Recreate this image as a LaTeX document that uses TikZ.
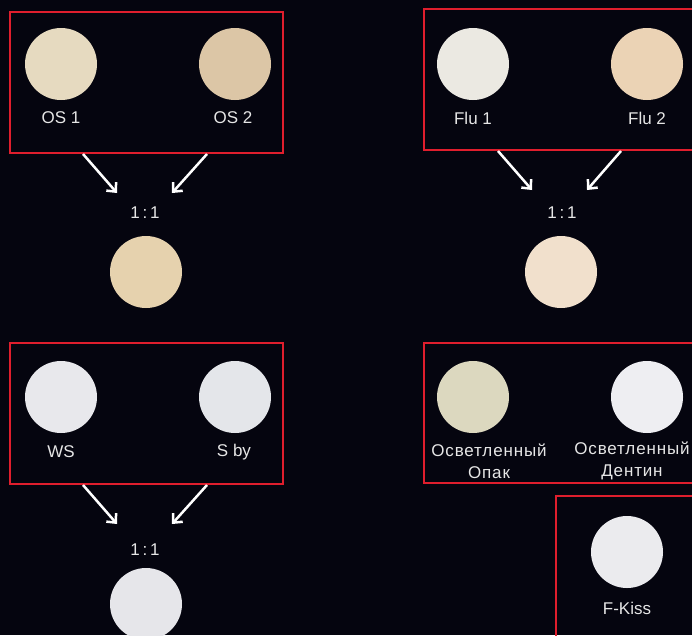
\documentclass[tikz,border=0pt]{standalone}
\usepackage{fontspec}
\setmainfont{Liberation Sans}
\newfontfamily\widesans[LetterSpace=5]{Liberation Sans}
\usetikzlibrary{arrows.meta}
\definecolor{bg}{HTML}{05050F}
\definecolor{frame}{HTML}{E01E2D}
\definecolor{txt}{HTML}{E6E6E6}
\definecolor{os1c}{HTML}{E6DAC0}
\definecolor{os2c}{HTML}{DCC6A6}
\definecolor{osmix}{HTML}{E6D2AE}
\definecolor{flu1c}{HTML}{EBE9E2}
\definecolor{flu2c}{HTML}{EBD3B5}
\definecolor{flumix}{HTML}{F1E0CC}
\definecolor{wsc}{HTML}{E8E8EC}
\definecolor{sbyc}{HTML}{E4E6EA}
\definecolor{wsmix}{HTML}{E6E6EA}
\definecolor{opakc}{HTML}{DCD8BF}
\definecolor{dentc}{HTML}{EEEEF2}
\definecolor{kissc}{HTML}{EBEBEE}
\tikzset{
  shade/.style={circle, inner sep=0pt, minimum size=72pt, fill=#1},
  caption/.style={text=txt, font=\fontsize{17}{22}\selectfont, align=center},
  frame/.style={draw=frame, line width=2.6pt},
  mixarrow/.style={draw=white, line width=2.5pt, -{Straight Barb[length=7pt,width=13pt]}}
}
\begin{document}
\begin{tikzpicture}[x=1pt, y=-1pt]
  \clip (0,0) rectangle (692,635);
  \fill[bg] (0,0) rectangle (692,635);
  % frames
  \draw[frame] (10,12) rectangle (283,153);
  \draw[frame] (424,9) rectangle (705,150);
  \draw[frame] (10,343) rectangle (283,484);
  \draw[frame] (424,343) rectangle (705,483);
  \draw[frame] (556,496) rectangle (705,650);
  % OS
  \node[shade=os1c] (os1) at (61,64) {};
  \node[shade=os2c] (os2) at (235,64) {};
  \node[caption] (os1t) at (61,118) {OS 1};
  \node[caption] (os2t) at (233,118) {OS 2};
  \node[caption] (osr) at (145,213) {1\,:\,1};
  \node[shade=osmix] (osm) at (146,272) {};
  \coordinate (osa) at (83,154);
  \coordinate (osb) at (207,154);
  \coordinate (osc) at (117,193);
  \coordinate (osd) at (172,193);
  % Flu
  \node[shade=flu1c] (flu1) at (473,64) {};
  \node[shade=flu2c] (flu2) at (647,64) {};
  \node[caption] (flu1t) at (473,118) {Flu 1};
  \node[caption] (flu2t) at (647,118) {Flu 2};
  \node[caption] (flur) at (562,213) {1\,:\,1};
  \node[shade=flumix] (flum) at (561,272) {};
  \coordinate (flua) at (498,151);
  \coordinate (flub) at (621,151);
  \coordinate (fluc) at (532,190);
  \coordinate (flud) at (587,190);
  % WS / S by
  \node[shade=wsc] (ws) at (61,397) {};
  \node[shade=sbyc] (sby) at (235,397) {};
  \node[caption] (wst) at (61,452) {WS};
  \node[caption] (sbyt) at (234,452) {S by};
  \node[caption] (wsr) at (145,550) {1\,:\,1};
  \node[shade=wsmix] (wsm) at (146,604) {};
  \coordinate (wsa) at (83,485);
  \coordinate (wsb) at (207,485);
  \coordinate (wsc) at (117,524);
  \coordinate (wsd) at (172,524);
  % light shades
  \node[shade=opakc] (opak) at (473,397) {};
  \node[shade=dentc] (dent) at (647,397) {};
  \node[caption, font=\fontsize{17}{22}\widesans] (opakt) at (489,461) {Осветленный\\Опак};
  \node[caption, font=\fontsize{17}{22}\widesans] (dentt) at (632,461) {Осветленный\\Дентин};
  \node[shade=kissc] (kiss) at (627,552) {};
  \node[caption] (kisst) at (627,608) {F-Kiss};
  \begin{scope}[mixarrow]
    \draw (osa) -- (osc);
    \draw (osb) -- (osd);
    \draw (flua) -- (fluc);
    \draw (flub) -- (flud);
    \draw (wsa) -- (wsc);
    \draw (wsb) -- (wsd);
  \end{scope}
\end{tikzpicture}
\end{document}
